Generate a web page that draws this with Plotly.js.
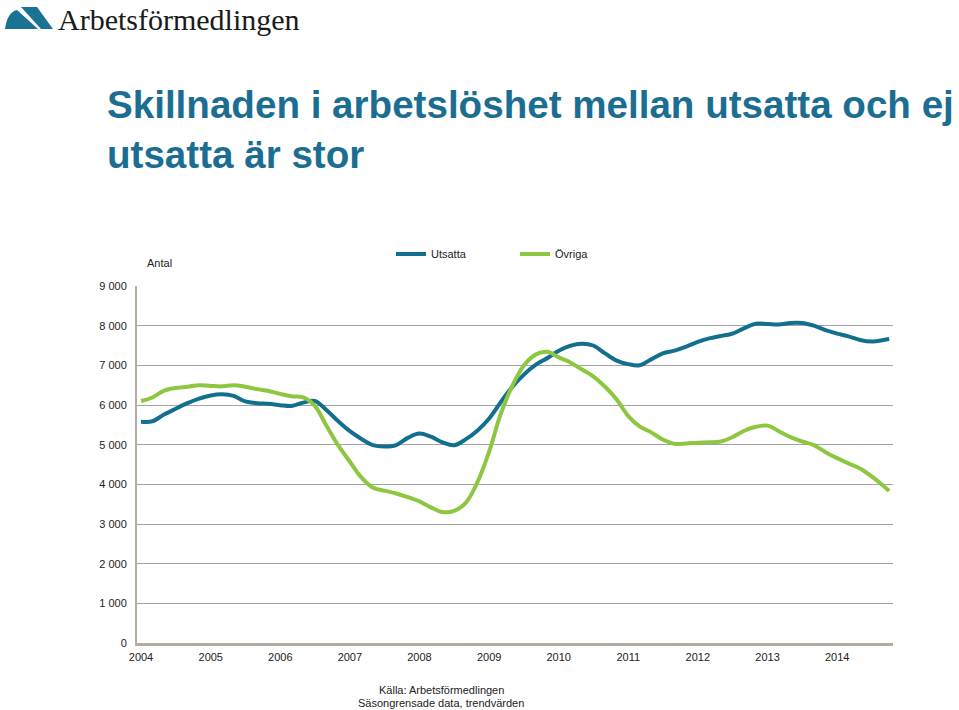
<!DOCTYPE html>
<html>
<head>
<meta charset="utf-8">
<script src="https://cdn.plot.ly/plotly-3.0.1.min.js"></script>
<style>
  html, body { margin: 0; padding: 0; background: #ffffff; }
  #chart { width: 959px; height: 710px; }
</style>
</head>
<body>
<div id="chart"></div>
<script>
// ---- Data ----
const months = [
  '2004-01','2004-03','2004-05','2004-07','2004-09','2004-11',
  '2005-01','2005-03','2005-05','2005-07','2005-09','2005-11',
  '2006-01','2006-03','2006-05','2006-07','2006-09','2006-11',
  '2007-01','2007-03','2007-05','2007-07','2007-09','2007-11',
  '2008-01','2008-03','2008-05','2008-07','2008-09','2008-11',
  '2009-01','2009-03','2009-05','2009-07','2009-09','2009-11',
  '2010-01','2010-03','2010-05','2010-07','2010-09','2010-11',
  '2011-01','2011-03','2011-05','2011-07','2011-09','2011-11',
  '2012-01','2012-03','2012-05','2012-07','2012-09','2012-11',
  '2013-01','2013-03','2013-05','2013-07','2013-09','2013-11',
  '2014-01','2014-03','2014-05','2014-07','2014-09','2014-10'
];
const utsatta = [
  5580, 5590, 5760, 5905, 6045, 6160,
  6240, 6270, 6230, 6090, 6045, 6030,
  5995, 5975, 6060, 6100, 5870, 5590,
  5340, 5150, 4990, 4955, 4990, 5170,
  5280, 5200, 5060, 4985, 5140, 5360,
  5660, 6060, 6450, 6760, 7010, 7180,
  7370, 7490, 7545, 7500, 7300, 7120,
  7030, 7000, 7150, 7300, 7370, 7470,
  7590, 7680, 7740, 7800, 7940, 8050,
  8040, 8030, 8070, 8070, 8000, 7890,
  7800, 7730, 7640, 7600, 7640, 7665
];
const ovriga = [
  6100, 6190, 6360, 6430, 6460, 6500,
  6480, 6470, 6500, 6460, 6400, 6355,
  6280, 6220, 6190, 5980, 5470, 4980,
  4570, 4180, 3920, 3840, 3770, 3680,
  3570, 3420, 3300, 3330, 3540, 4060,
  4830, 5750, 6470, 6990, 7270, 7340,
  7200, 7080, 6900, 6720, 6460, 6140,
  5720, 5460, 5310, 5130, 5020, 5030,
  5050, 5060, 5080, 5190, 5350, 5450,
  5480, 5340, 5190, 5080, 4990, 4810,
  4660, 4530, 4400, 4200, 3960, 3830
];
const seriesNames = ['Utsatta', 'Övriga'];
const yearTickVals = ['2004-01-01','2005-01-01','2006-01-01','2007-01-01','2008-01-01','2009-01-01','2010-01-01','2011-01-01','2012-01-01','2013-01-01','2014-01-01'];
const yearTickText = ['2004','2005','2006','2007','2008','2009','2010','2011','2012','2013','2014'];
const yTickVals = [0, 1000, 2000, 3000, 4000, 5000, 6000, 7000, 8000, 9000];
const yTickText = ['0','1 000','2 000','3 000','4 000','5 000','6 000','7 000','8 000','9 000'];
const titleText = 'Skillnaden i arbetslöshet mellan utsatta och ej<br>utsatta är stor';
const yUnitLabel = 'Antal';
const sourceLine1 = 'Källa: Arbetsförmedlingen';
const sourceLine2 = 'Säsongrensade data, trendvärden';
const logoText = 'Arbetsförmedlingen';

// ---- Layout geometry (pixels) ----
const W = 959, H = 710;
const M = { l: 137, r: 66, t: 286, b: 67 };
const PW = W - M.l - M.r, PH = H - M.t - M.b;
const px = x => (x - M.l) / PW;
const py = y => (H - M.b - y) / PH;
function pathPx(cmds) {
  return cmds.map(c => {
    const L = c[0]; const out = [L];
    for (let i = 1; i < c.length; i += 2) out.push(px(c[i]).toFixed(5) + ',' + py(c[i + 1]).toFixed(5));
    return out.join(' ');
  }).join(' ') + ' Z';
}

const BLUE = '#136f8e';
const GREEN = '#8dc641';
const FONT = 'Liberation Sans, Arial, Helvetica, sans-serif';

const traces = [
  { x: months, y: utsatta, name: seriesNames[0], type: 'scatter', mode: 'lines',
    line: { color: BLUE, width: 4, shape: 'spline', smoothing: 1 }, hoverinfo: 'x+y' },
  { x: months, y: ovriga, name: seriesNames[1], type: 'scatter', mode: 'lines',
    line: { color: GREEN, width: 4, shape: 'spline', smoothing: 1 }, hoverinfo: 'x+y' }
];

const logoMarkLeft = pathPx([
  ['M', 5, 29], ['C', 6, 20, 10, 11, 17, 10], ['L', 38, 29]
]);
const logoMarkRight = pathPx([
  ['M', 21, 7], ['L', 37, 7], ['L', 53, 29], ['L', 41, 29]
]);

const layout = {
  width: W, height: H,
  margin: M,
  paper_bgcolor: '#ffffff', plot_bgcolor: '#ffffff',
  font: { family: FONT, size: 11, color: '#222222' },
  title: {
    text: titleText,
    x: 107 / W, xref: 'container', xanchor: 'left',
    y: 1 - 118 / H, yref: 'container', yanchor: 'top',
    font: { family: FONT, size: 38.6, color: '#1b6e91', weight: 'bold' }
  },
  showlegend: true,
  legend: {
    orientation: 'h', x: px(391), xanchor: 'left', y: py(254), yanchor: 'middle',
    font: { family: FONT, size: 11, color: '#222222' },
    entrywidth: 79, entrywidthmode: 'pixels', bgcolor: 'rgba(0,0,0,0)',
    itemclick: false, itemdoubleclick: false
  },
  xaxis: {
    type: 'date', range: ['2003-12-11', '2014-10-21'],
    tickmode: 'array', tickvals: yearTickVals, ticktext: yearTickText,
    showgrid: false, zeroline: false, ticks: '',
    showline: true, linecolor: '#b4aca3', linewidth: 3,
    tickfont: { family: FONT, size: 11, color: '#222222' },
    ticklabelstandoff: 2, fixedrange: true
  },
  yaxis: {
    range: [0, 9000], tickmode: 'array', tickvals: yTickVals, ticktext: yTickText,
    showgrid: true, gridcolor: '#a3a3a3', gridwidth: 1, zeroline: false, ticks: '',
    showline: true, linecolor: '#b4aca3', linewidth: 2,
    tickfont: { family: FONT, size: 11, color: '#222222' },
    ticklabelstandoff: 6, fixedrange: true
  },
  shapes: [
    { type: 'path', xref: 'paper', yref: 'paper', path: logoMarkLeft, fillcolor: '#1a7393', line: { width: 0 } },
    { type: 'path', xref: 'paper', yref: 'paper', path: logoMarkRight, fillcolor: '#1a7393', line: { width: 0 } }
  ],
  annotations: [
    { text: logoText, xref: 'paper', yref: 'paper', x: px(56), y: py(19), xanchor: 'left', yanchor: 'middle',
      showarrow: false, font: { family: 'Liberation Serif, Times New Roman, serif', size: 30, color: '#1a1a1a' } },
    { text: yUnitLabel, xref: 'paper', yref: 'paper', x: px(145), y: py(263), xanchor: 'left', yanchor: 'middle',
      showarrow: false, font: { family: FONT, size: 11, color: '#222222' } },
    { text: sourceLine1, xref: 'paper', yref: 'paper', x: px(441), y: py(690), xanchor: 'center', yanchor: 'middle',
      showarrow: false, font: { family: FONT, size: 11, color: '#222222' } },
    { text: sourceLine2, xref: 'paper', yref: 'paper', x: px(441), y: py(703), xanchor: 'center', yanchor: 'middle',
      showarrow: false, font: { family: FONT, size: 11, color: '#222222' } }
  ]
};

Plotly.newPlot('chart', traces, layout, { displayModeBar: false, staticPlot: false, responsive: false });
</script>
</body>
</html>
